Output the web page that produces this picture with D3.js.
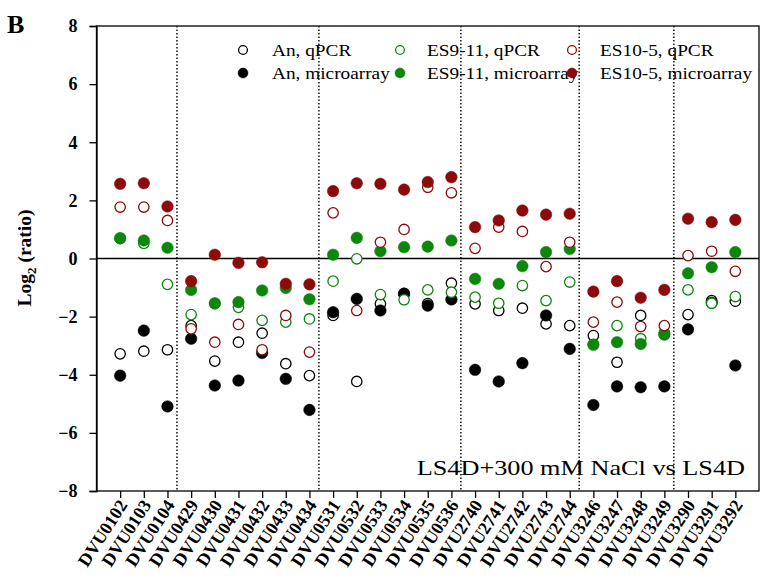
<!DOCTYPE html>
<html><head><meta charset="utf-8">
<script src="https://cdn.jsdelivr.net/npm/d3@7"></script>
<style>body{margin:0;background:#fff}svg{display:block}</style>
</head><body><svg id="c" width="763" height="583"></svg>
<script>
const categories = ["DVU0102","DVU0103","DVU0104","DVU0429","DVU0430","DVU0431","DVU0432","DVU0433","DVU0434","DVU0531","DVU0532","DVU0533","DVU0534","DVU0535","DVU0536","DVU2740","DVU2741","DVU2742","DVU2743","DVU2744","DVU3246","DVU3247","DVU3248","DVU3249","DVU3290","DVU3291","DVU3292"];
const anQPCR   = [-3.28,-3.19,-3.14,-2.31,-3.53,-2.88,-2.57,-3.62,-4.03,-1.96,-4.23,-1.56,-1.20,-1.55,-0.85,-1.56,-1.79,-1.71,-2.25,-2.31,-2.65,-3.57,-1.96,-2.60,-1.93,-1.45,-1.47];
const anMicro  = [-4.03,-2.48,-5.09,-2.76,-4.37,-4.20,-3.25,-4.14,-5.21,-1.85,-1.39,-1.79,-1.22,-1.62,-1.41,-3.83,-4.23,-3.60,-1.96,-3.11,-5.04,-4.40,-4.43,-4.40,-2.44,-1.52,-3.68];
const es911QPCR  = [0.68,0.52,-0.89,-1.93,-1.55,-1.68,-2.13,-2.19,-2.08,-0.78,-0.01,-1.24,-1.42,-1.08,-1.16,-1.33,-1.54,-0.93,-1.45,-0.81,-2.95,-2.31,-2.76,-2.55,-1.08,-1.54,-1.31];
const es911Micro = [0.70,0.62,0.37,-1.08,-1.54,-1.50,-1.10,-1.01,-1.40,0.13,0.71,0.25,0.39,0.41,0.62,-0.70,-0.87,-0.26,0.22,0.33,-2.97,-2.88,-2.94,-2.62,-0.51,-0.30,0.22];
const es105QPCR  = [1.77,1.77,1.31,-2.42,-2.88,-2.27,-3.14,-1.96,-3.22,1.57,-1.79,0.56,1.00,2.45,2.26,0.35,1.08,0.93,-0.28,0.56,-2.19,-1.50,-2.34,-2.31,0.10,0.25,-0.44];
const es105Micro = [2.57,2.59,1.79,-0.78,0.13,-0.15,-0.13,-0.87,-0.89,2.32,2.59,2.57,2.37,2.63,2.80,1.08,1.31,1.65,1.51,1.54,-1.14,-0.78,-1.35,-1.08,1.37,1.25,1.33];
const yTicks = [-8,-6,-4,-2,0,2,4,6,8];
const groupBreaks = ["DVU0104","DVU0434","DVU0536","DVU2744","DVU3249"];
const seriesNames = ["An, qPCR","An, microarray","ES9-11, qPCR","ES9-11, microarray","ES10-5, qPCR","ES10-5, microarray"];
const annotation = "LS4D+300 mM NaCl vs LS4D";

const series = [
  {name:seriesNames[0], values:anQPCR,    color:"#000000", open:true},
  {name:seriesNames[1], values:anMicro,   color:"#000000", open:false},
  {name:seriesNames[2], values:es911QPCR, color:"#0b870b", open:true},
  {name:seriesNames[3], values:es911Micro,color:"#0b870b", open:false},
  {name:seriesNames[4], values:es105QPCR, color:"#8b0a0a", open:true},
  {name:seriesNames[5], values:es105Micro,color:"#8b0a0a", open:false}
];

const svg = d3.select("#c");
const L=96.5, R=759, T=26, B=491;
const x = d3.scalePoint().domain(categories).range([L,R]).padding(1);
const y = d3.scaleLinear().domain([-8,8]).range([B,T]);
const serif = "'Liberation Serif','Times New Roman',serif";

// frame
svg.append("rect").attr("x",L).attr("y",T).attr("width",R-L).attr("height",B-T)
  .attr("fill","none").attr("stroke","#000").attr("stroke-width",1.3);

// dotted group separators
const step = x.step();
svg.selectAll("line.sep").data(groupBreaks).enter().append("line")
  .attr("x1",d=>x(d)+step*0.4).attr("x2",d=>x(d)+step*0.4)
  .attr("y1",T).attr("y2",B)
  .attr("stroke","#222").attr("stroke-width",1.6).attr("stroke-dasharray","1.5,2");

// zero line
svg.append("line").attr("x1",L).attr("x2",R).attr("y1",y(0)).attr("y2",y(0))
  .attr("stroke","#000").attr("stroke-width",1.6);

// y axis
const ya = svg.append("g").attr("transform",`translate(${L},0)`)
  .call(d3.axisLeft(y).tickValues(yTicks).tickSize(7).tickPadding(12).tickFormat(d3.format("d")));
ya.select(".domain").attr("stroke-width",1.3);
ya.selectAll(".tick line").attr("stroke-width",1.3);
ya.selectAll("text").attr("font-family",serif).attr("font-weight","bold").attr("font-size",18).attr("fill","#000");

// x axis
const xa = svg.append("g").attr("transform",`translate(0,${B})`)
  .call(d3.axisBottom(x).tickSize(7).tickFormat(""));
xa.select(".domain").remove();
xa.selectAll(".tick line").attr("stroke-width",1.3);
svg.append("g").selectAll("text").data(categories).enter().append("text")
  .attr("transform",d=>`translate(${x(d)+8},${B+14}) rotate(-57)`)
  .attr("text-anchor","end").attr("font-family",serif).attr("font-weight","bold")
  .attr("font-size",18).text(d=>d);

// y title
const yt = svg.append("text").attr("transform","translate(31,258) rotate(-90)")
  .attr("text-anchor","middle").attr("font-family",serif).attr("font-weight","bold").attr("font-size",19.5);
yt.append("tspan").text("Log");
yt.append("tspan").attr("font-size",13).attr("dy",5).text("2");
yt.append("tspan").attr("dy",-5).text(" (ratio)");

// panel letter
svg.append("text").attr("x",7).attr("y",33).attr("font-family",serif).attr("font-weight","bold")
  .attr("font-size",26).text("B");

// points
const r = 5.8;
series.forEach(s=>{
  svg.append("g").selectAll("circle").data(s.values).enter().append("circle")
    .attr("cx",(d,i)=>x(categories[i])).attr("cy",d=>y(d)).attr("r",s.open?r-0.6:r)
    .attr("fill",s.open?"#fff":s.color).attr("stroke",s.color).attr("stroke-width",s.open?1.3:0.5);
});

// legend
const legCols=[243,400,572], legText=[272,427,600], legRows=[50,73];
series.forEach((s,i)=>{
  const c=Math.floor(i/2), rr=i%2;
  svg.append("circle").attr("cx",legCols[c]).attr("cy",legRows[rr]).attr("r",s.open?4.4:5)
    .attr("fill",s.open?"#fff":s.color).attr("stroke",s.color).attr("stroke-width",s.open?1.3:0.5);
  svg.append("text").attr("transform",`translate(${legText[c]},${legRows[rr]+5.5}) scale(1.17,1)`)
    .attr("font-family",serif).attr("font-size",16.5).text(s.name);
});

// annotation
svg.append("text").attr("transform","translate(745,475) scale(1.25,1)").attr("text-anchor","end")
  .attr("font-family",serif).attr("font-size",21).text(annotation);
</script></body></html>
